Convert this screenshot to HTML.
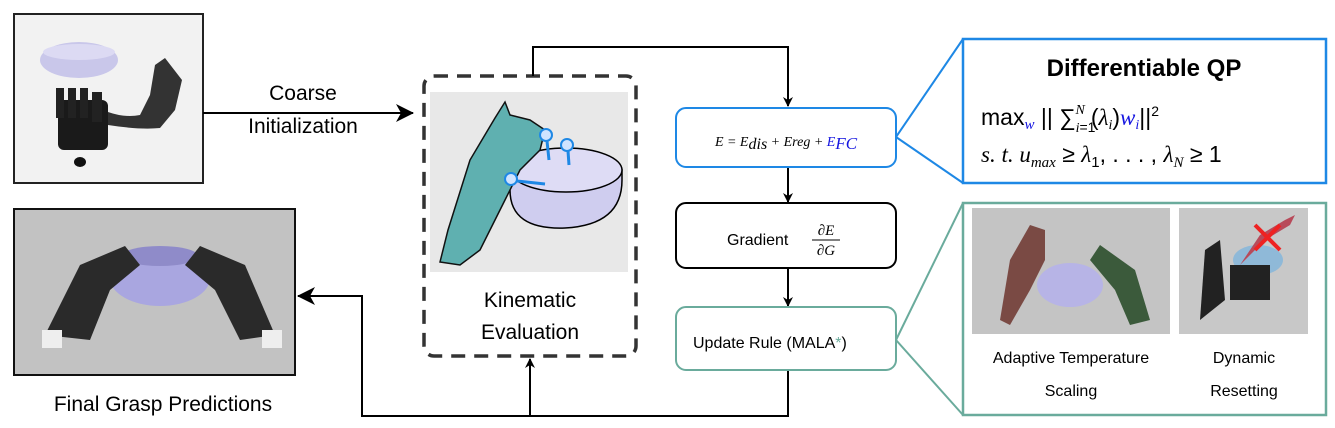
<!DOCTYPE html>
<html><head><meta charset="utf-8"><style>
html,body{margin:0;padding:0;background:#fff;}
svg{display:block;}
text{font-family:"Liberation Sans",sans-serif;}
.m{font-family:"Liberation Serif",serif;font-style:italic;}
</style></head><body>
<svg width="1335" height="428" viewBox="0 0 1335 428" xmlns="http://www.w3.org/2000/svg">
<defs>
<marker id="ar" markerWidth="10" markerHeight="10" refX="9" refY="5" orient="auto" markerUnits="userSpaceOnUse">
<path d="M0,0 L10,5 L0,10 L3,5 Z" fill="#000"/></marker>
<marker id="arb" markerWidth="18" markerHeight="18" refX="17" refY="9" orient="auto" markerUnits="userSpaceOnUse">
<path d="M0,0 L18,9 L0,18 L5,9 Z" fill="#000"/></marker>
</defs>

<!-- top-left image -->
<rect x="14" y="14" width="189" height="169" fill="#f2f2f2" stroke="#222" stroke-width="2"/>
<ellipse cx="79" cy="60" rx="39" ry="18" fill="#c9c7ea"/>
<ellipse cx="79" cy="52" rx="36" ry="8" fill="#dcdaf3"/>
<rect x="58" y="100" width="50" height="50" rx="6" fill="#1a1a1a"/>
<rect x="56" y="88" width="8" height="30" fill="#222"/><rect x="68" y="88" width="8" height="30" fill="#222"/>
<rect x="80" y="88" width="8" height="30" fill="#222"/><rect x="92" y="92" width="10" height="30" fill="#222"/>
<ellipse cx="80" cy="162" rx="6" ry="5" fill="#111"/>
<path d="M108,125 Q140,130 160,128 L175,110 L182,80 L165,58 L155,65 L150,95 L140,115 Q125,118 108,112 Z" fill="#333"/>

<!-- arrow coarse init -->
<line x1="203" y1="113" x2="413" y2="113" stroke="#000" stroke-width="2" marker-end="url(#arb)"/>
<text x="303" y="100" font-size="21" text-anchor="middle">Coarse</text>
<text x="303" y="133" font-size="21" text-anchor="middle">Initialization</text>

<!-- final grasp image -->
<rect x="14" y="209" width="281" height="166" fill="#c2c2c2" stroke="#111" stroke-width="2"/>
<ellipse cx="160" cy="278" rx="50" ry="28" fill="#a9a6e0"/>
<ellipse cx="160" cy="256" rx="38" ry="10" fill="#8f8bc9"/>
<path d="M45,335 L80,265 L125,246 L140,265 L110,290 L90,340 Z" fill="#2a2a2a"/>
<path d="M275,335 L245,265 L200,246 L185,265 L215,290 L240,340 Z" fill="#2a2a2a"/>
<rect x="42" y="330" width="20" height="18" fill="#eee"/><rect x="262" y="330" width="20" height="18" fill="#eee"/>
<text x="163" y="411" font-size="21" text-anchor="middle">Final Grasp Predictions</text>

<!-- dashed kinematic box -->
<rect x="424" y="76" width="212" height="280" rx="10" fill="none" stroke="#333" stroke-width="3.5" stroke-dasharray="14,9"/>
<rect x="430" y="92" width="198" height="180" fill="#e8e8e8"/>
<path d="M510,190 Q510,230 565,228 Q622,225 622,180 L622,170 L510,170 Z" fill="#cfcdef" stroke="#000" stroke-width="1.5"/>
<ellipse cx="566" cy="170" rx="56" ry="22" fill="#dedcf5" stroke="#000" stroke-width="1.5"/>
<path d="M440,262 L448,230 L470,160 L495,118 L505,102 L510,115 L530,120 L545,130 L540,150 L520,170 L505,200 L480,250 L460,265 Z" fill="#5fb0b0" stroke="#111" stroke-width="1.5"/>
<circle cx="546" cy="135" r="6" fill="#cfe3ff" stroke="#1e88e5" stroke-width="2"/><circle cx="567" cy="145" r="6" fill="#cfe3ff" stroke="#1e88e5" stroke-width="2"/><circle cx="511" cy="179" r="6" fill="#cfe3ff" stroke="#1e88e5" stroke-width="2"/>
<line x1="547" y1="141" x2="549" y2="160" stroke="#1e88e5" stroke-width="3"/>
<line x1="568" y1="151" x2="569" y2="165" stroke="#1e88e5" stroke-width="3"/>
<line x1="517" y1="181" x2="545" y2="184" stroke="#1e88e5" stroke-width="3"/>
<text x="530" y="307" font-size="21" text-anchor="middle">Kinematic</text>
<text x="530" y="339" font-size="21" text-anchor="middle">Evaluation</text>

<!-- connectors -->
<polyline points="533,76 533,47 788,47 788,106" fill="none" stroke="#000" stroke-width="2" marker-end="url(#ar)"/>
<line x1="788" y1="167" x2="788" y2="202" stroke="#000" stroke-width="2" marker-end="url(#ar)"/>
<line x1="788" y1="268" x2="788" y2="306" stroke="#000" stroke-width="2" marker-end="url(#ar)"/>
<polyline points="788,370 788,416 362,416 362,296 298,296" fill="none" stroke="#000" stroke-width="2" marker-end="url(#arb)"/>
<line x1="530" y1="416" x2="530" y2="359" stroke="#000" stroke-width="2" marker-end="url(#ar)"/>

<!-- boxes -->
<rect x="676" y="108" width="220" height="59" rx="10" fill="#fff" stroke="#1e88e5" stroke-width="2"/>
<text x="786" y="146" font-size="14" text-anchor="middle" class="m">E = E<tspan font-size="16" dy="3">dis</tspan><tspan dy="-3"> + Ereg + </tspan><tspan fill="#1515e0">E<tspan font-size="17" dy="3">FC</tspan></tspan></text>

<rect x="676" y="203" width="220" height="65" rx="10" fill="#fff" stroke="#000" stroke-width="2"/>
<text x="727" y="245" font-size="16">Gradient</text>
<text x="826" y="235" font-size="15" text-anchor="middle" class="m">∂E</text>
<line x1="812" y1="240" x2="840" y2="240" stroke="#000" stroke-width="1"/>
<text x="826" y="255" font-size="15" text-anchor="middle" class="m">∂G</text>

<rect x="676" y="307" width="220" height="63" rx="10" fill="#fff" stroke="#6aab9c" stroke-width="2"/>
<text x="693" y="348" font-size="16">Update Rule (MALA<tspan fill="#6aab9c">*</tspan>)</text>

<!-- zoom lines -->
<line x1="896" y1="137" x2="963" y2="39" stroke="#1e88e5" stroke-width="2"/>
<line x1="896" y1="137" x2="963" y2="183" stroke="#1e88e5" stroke-width="2"/>
<line x1="896" y1="340" x2="963" y2="203" stroke="#6aab9c" stroke-width="2"/>
<line x1="896" y1="340" x2="963" y2="415" stroke="#6aab9c" stroke-width="2"/>

<!-- QP box -->
<rect x="963" y="39" width="363" height="144" fill="#fff" stroke="#1e88e5" stroke-width="2.5"/>
<text x="1144" y="76" font-size="24" font-weight="bold" text-anchor="middle">Differentiable QP</text>
<text x="981" y="125" font-size="23" font-family="Liberation Serif,serif">max<tspan font-size="15" dy="4" class="m" fill="#1515e0">w</tspan><tspan dy="-4"> || ∑</tspan><tspan font-size="14" dy="7" class="m">i</tspan><tspan font-size="14">=1</tspan><tspan font-size="14" dy="-18" class="m" dx="-20">N</tspan><tspan dy="11" dx="6">(</tspan><tspan class="m">λ</tspan><tspan font-size="14" dy="4" class="m">i</tspan><tspan dy="-4">)</tspan><tspan class="m" fill="#1515e0">w</tspan><tspan font-size="14" dy="4" class="m" fill="#1515e0">i</tspan><tspan dy="-4">||</tspan><tspan font-size="14" dy="-9">2</tspan></text>
<text x="981" y="162" font-size="23" font-family="Liberation Serif,serif"><tspan class="m">s. t. u</tspan><tspan font-size="15" dy="5" class="m">max</tspan><tspan dy="-5"> ≥ </tspan><tspan class="m">λ</tspan><tspan font-size="15" dy="5">1</tspan><tspan dy="-5">, . . . , </tspan><tspan class="m">λ</tspan><tspan font-size="15" dy="5" class="m">N</tspan><tspan dy="-5"> ≥ 1</tspan></text>

<!-- teal box -->
<rect x="963" y="203" width="363" height="212" fill="#fff" stroke="#6aab9c" stroke-width="2.5"/>
<rect x="972" y="208" width="198" height="126" fill="#c4c4c4"/>
<ellipse cx="1070" cy="285" rx="33" ry="22" fill="#b7b4e6"/>
<path d="M1000,320 L1010,260 L1030,225 L1045,230 L1045,260 L1030,290 L1010,325 Z" fill="#7a4a44"/>
<path d="M1150,320 L1135,270 L1100,245 L1090,260 L1115,290 L1130,325 Z" fill="#3b5a3b"/>
<rect x="1179" y="208" width="129" height="126" fill="#c8c8c8"/>
<ellipse cx="1258" cy="260" rx="25" ry="15" fill="#8fb9d8"/>
<path d="M1200,320 L1205,250 L1220,240 L1225,300 Z" fill="#222"/>
<rect x="1230" y="265" width="40" height="35" fill="#222"/>
<path d="M1240,265 L1265,240 L1290,225 L1295,215 L1285,220 L1260,235 Z" fill="#b84a5a"/>
<path d="M1255,225 L1280,250 M1280,225 L1255,250" stroke="#e22" stroke-width="4"/>
<text x="1071" y="363" font-size="16" text-anchor="middle">Adaptive Temperature</text>
<text x="1071" y="396" font-size="16" text-anchor="middle">Scaling</text>
<text x="1244" y="363" font-size="16" text-anchor="middle">Dynamic</text>
<text x="1244" y="396" font-size="16" text-anchor="middle">Resetting</text>
</svg>
</body></html>
